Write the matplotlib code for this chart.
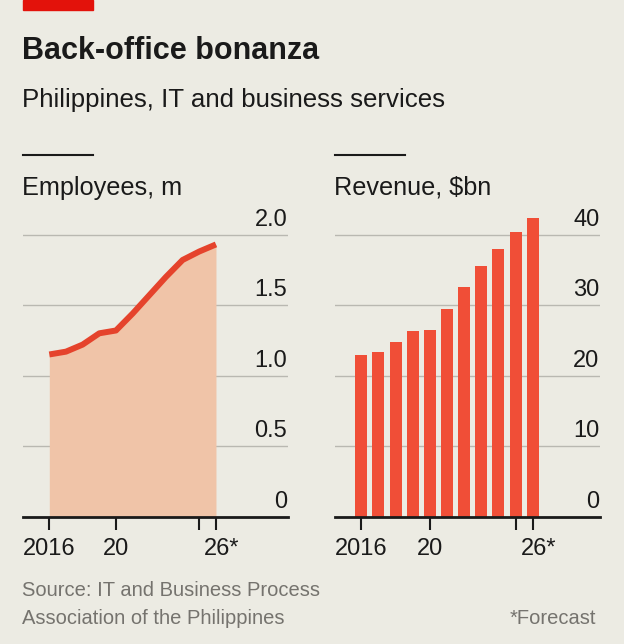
import matplotlib.pyplot as plt
from matplotlib.patches import Rectangle
from matplotlib.lines import Line2D
from matplotlib.transforms import ScaledTranslation, blended_transform_factory

plt.rcParams['font.family'] = ['Liberation Sans', 'DejaVu Sans']

# Data
years = [2016, 2017, 2018, 2019, 2020, 2021, 2022, 2023, 2024, 2025, 2026]
employees = [1.15, 1.17, 1.22, 1.30, 1.32, 1.44, 1.57, 1.70, 1.82, 1.88, 1.93]
revenue = [22.9, 23.4, 24.8, 26.3, 26.5, 29.5, 32.5, 35.5, 38.0, 40.3, 42.3]

emp_ticks = [0, 0.5, 1.0, 1.5, 2.0]
emp_labels = ['0', '0.5', '1.0', '1.5', '2.0']
rev_ticks = [0, 10, 20, 30, 40]
rev_labels = ['0', '10', '20', '30', '40']
x_ticks = [2016, 2020, 2025, 2026]
x_labels = ['2016', '20', '', '26*']

bg = '#ECEBE3'
red = '#E3120B'
line_red = '#E5432C'
bar_red = '#F04E37'
fill = '#F0C4A8'
grid_c = '#B9B8B1'
grey = '#75736E'
ink = '#1A1A1A'

fig = plt.figure(figsize=(6.24, 6.44), dpi=100, facecolor=bg)
W, H = 624, 644

def fx(px):
    return px / W

def fy(py):
    return 1 - py / H

# Header
fig.patches.append(Rectangle((fx(23), fy(10)), fx(70), 10 / H, transform=fig.transFigure,
                             color=red, zorder=5))
fig.text(fx(22), fy(59), 'Back-office bonanza', fontsize=22, fontweight='bold',
         color=ink, va='baseline')
fig.text(fx(22), fy(107), 'Philippines, IT and business services', fontsize=18.6,
         color=ink, va='baseline')

for x0, title in [(23, 'Employees, m'), (335, 'Revenue, $bn')]:
    fig.lines.append(Line2D([fx(x0), fx(x0 + 70)], [fy(155), fy(155)],
                            transform=fig.transFigure, color=ink, lw=1.5))
    fig.text(fx(x0 - 1), fy(195), title, fontsize=18.2, color=ink, va='baseline')

bottom = fy(516.7)
height = (516.7 - 213.4) / H
ax1 = fig.add_axes([fx(23.3), bottom, fx(265), height])
ax2 = fig.add_axes([fx(335.3), bottom, fx(265), height])

# Left: employees area + line
ax1.fill_between(years, employees, 0, color=fill, lw=0, zorder=2)
ax1.plot(years, employees, color=line_red, lw=4.3, solid_capstyle='butt', zorder=3)
ax1.set_xlim(2014.44, 2030.34)
ax1.set_ylim(0, 2.15)

# Right: revenue bars
ax2.bar(years, revenue, width=0.7, color=bar_red, zorder=2)
ax2.set_xlim(2014.48, 2029.94)
ax2.set_ylim(0, 43)

for ax, ticks, labels in [(ax1, emp_ticks, emp_labels), (ax2, rev_ticks, rev_labels)]:
    ax.set_facecolor(bg)
    for s in ['top', 'right', 'left']:
        ax.spines[s].set_visible(False)
    ax.spines['bottom'].set_linewidth(2)
    ax.spines['bottom'].set_color(ink)
    ax.spines['bottom'].set_zorder(4)
    ax.set_yticks([])
    for t in ticks[1:]:
        ax.axhline(t, color=grid_c, lw=1, zorder=1)
    trans = blended_transform_factory(ax.transAxes, ax.transData)
    for t, lab in zip(ticks, labels):
        ax.text(1.0, t, lab, transform=trans + ScaledTranslation(-1 / 100, 4 / 100, fig.dpi_scale_trans),
                ha='right', va='bottom', fontsize=17, color=ink)
    ax.set_xticks(x_ticks, x_labels)
    ax.tick_params(axis='x', length=9, width=1.5, color=ink, labelsize=17,
                   labelcolor=ink, pad=6)
    lab = ax.get_xticklabels()[-1]
    lab.set_transform(lab.get_transform() + ScaledTranslation(6 / 100, 0, fig.dpi_scale_trans))

# Footer
fig.text(fx(22), fy(596), 'Source: IT and Business Process', fontsize=14.5, color=grey, va='baseline')
fig.text(fx(22), fy(624), 'Association of the Philippines', fontsize=14.5, color=grey, va='baseline')
fig.text(fx(596), fy(624), '*Forecast', fontsize=14.5, color=grey, va='baseline', ha='right')

plt.savefig('out.png', dpi=100, facecolor=bg)
plt.close()
